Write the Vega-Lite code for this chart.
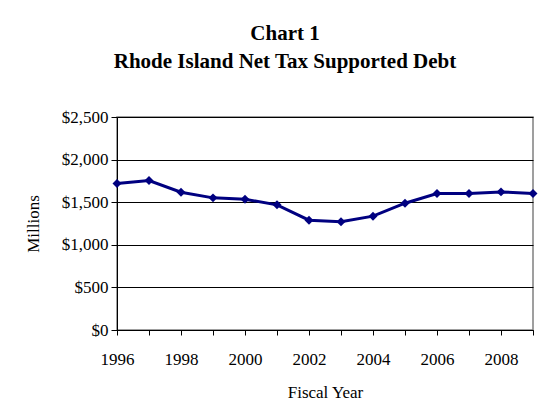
{
  "$schema": "https://vega.github.io/schema/vega-lite/v6.json",
  "width": 416,
  "height": 213,
  "autosize": {"type": "none"},
  "padding": {"left": 117, "top": 117, "right": 26, "bottom": 90},
  "background": "white",
  "title": {
    "text": ["Chart 1", "Rhode Island Net Tax Supported Debt"],
    "font": "Liberation Serif",
    "fontSize": 21,
    "fontWeight": "bold",
    "color": "black",
    "lineHeight": 28,
    "anchor": "middle",
    "dx": -40,
    "offset": 36
  },
  "config": {
    "view": {"stroke": "#808080", "strokeWidth": 1.5},
    "axis": {
      "labelFont": "Liberation Serif",
      "labelFontSize": 17,
      "labelColor": "black",
      "titleFont": "Liberation Serif",
      "titleFontSize": 17,
      "titleFontWeight": "normal",
      "titleColor": "black",
      "domainColor": "black",
      "tickColor": "black",
      "gridColor": "black",
      "gridOpacity": 1
    }
  },
  "data": {
    "values": [
      {"year": 1996, "debt": 1719},
      {"year": 1997, "debt": 1754},
      {"year": 1998, "debt": 1617},
      {"year": 1999, "debt": 1551},
      {"year": 2000, "debt": 1535},
      {"year": 2001, "debt": 1469},
      {"year": 2002, "debt": 1289},
      {"year": 2003, "debt": 1270},
      {"year": 2004, "debt": 1336},
      {"year": 2005, "debt": 1488},
      {"year": 2006, "debt": 1602},
      {"year": 2007, "debt": 1602},
      {"year": 2008, "debt": 1621},
      {"year": 2009, "debt": 1602}
    ]
  },
  "encoding": {
    "x": {
      "field": "year",
      "type": "quantitative",
      "scale": {"domain": [1996, 2009], "nice": false, "zero": false},
      "axis": {
        "title": "Fiscal Year",
        "values": [1996, 1997, 1998, 1999, 2000, 2001, 2002, 2003, 2004, 2005, 2006, 2007, 2008, 2009],
        "format": "d",
        "labelExpr": "datum.value % 2 == 0 ? datum.label : ''",
        "grid": false,
        "tickSize": 5,
        "labelPadding": 16,
        "titlePadding": 17,
        "labelFlush": false,
        "labelOverlap": false
      }
    },
    "y": {
      "field": "debt",
      "type": "quantitative",
      "scale": {"domain": [0, 2500], "nice": false},
      "axis": {
        "title": "Millions",
        "values": [0, 500, 1000, 1500, 2000, 2500],
        "format": "$,d",
        "tickSize": 6,
        "labelPadding": 3,
        "titlePadding": 19,
        "grid": true,
        "gridWidth": 1
      }
    }
  },
  "layer": [
    {
      "mark": {"type": "line", "color": "#000080", "strokeWidth": 3}
    },
    {
      "mark": {"type": "point", "shape": "diamond", "filled": true, "color": "#000080", "opacity": 1, "size": 80}
    }
  ]
}
